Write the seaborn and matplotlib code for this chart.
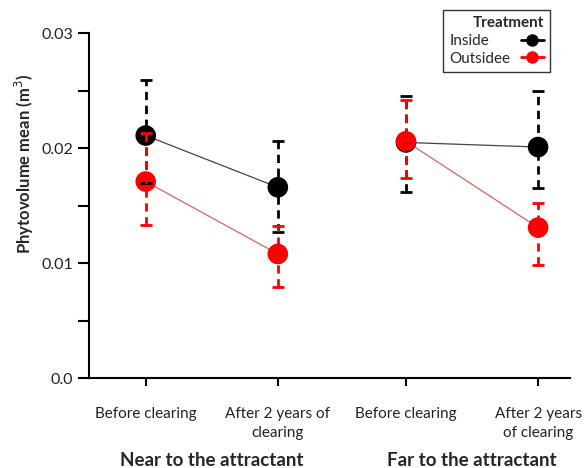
import matplotlib
matplotlib.use("Agg")
import matplotlib.pyplot as plt
import matplotlib.transforms as mtransforms
from matplotlib.lines import Line2D
import seaborn as sns
import pandas as pd
import numpy as np

# ---- data ----
conditions = ["Before clearing", "After 2 years of\nclearing", "Before clearing", "After 2 years\nof clearing"]
positions = [0, 1, 1.97, 2.97]
groups = ["Near to the attractant", "Far to the attractant"]
treatments = ["Inside", "Outsidee"]
inside_mean = [0.0211, 0.0166, 0.0205, 0.0201]
inside_lower = [0.0170, 0.0127, 0.0162, 0.0165]
inside_upper = [0.0259, 0.0206, 0.0245, 0.0250]
outside_mean = [0.0171, 0.0108, 0.0206, 0.0131]
outside_lower = [0.0133, 0.0079, 0.0174, 0.0098]
outside_upper = [0.0213, 0.0132, 0.0242, 0.0152]
ytick_values = [0.0, 0.01, 0.02, 0.03]
ytick_labels = ["0.0", "0.01", "0.02", "0.03"]

sns.set_theme(style="ticks")
plt.rcParams["font.family"] = ["Lato", "DejaVu Sans"]

fig = plt.figure(figsize=(5.85, 4.68), dpi=100)
ax = fig.add_axes([0.152, 0.192, 0.822, 0.737])

colors = {"Inside": "black", "Outsidee": "red"}
line_colors = {"Inside": "#444444", "Outsidee": "#e06060"}
means = {"Inside": inside_mean, "Outsidee": outside_mean}
lowers = {"Inside": inside_lower, "Outsidee": outside_lower}
uppers = {"Inside": inside_upper, "Outsidee": outside_upper}

for t in treatments:
    df = pd.DataFrame({"x": positions, "y": means[t]})
    for g in range(2):
        sub = df.iloc[2 * g:2 * g + 2]
        sns.lineplot(data=sub, x="x", y="y", ax=ax, color=line_colors[t], linewidth=0.9,
                     zorder=2, legend=False)
    sns.scatterplot(data=df, x="x", y="y", ax=ax, color=colors[t], s=220,
                    edgecolor="none", zorder=3, legend=False)

for t in treatments:
    m = np.array(means[t]); lo = np.array(lowers[t]); up = np.array(uppers[t])
    eb = ax.errorbar(positions, m, yerr=[m - lo, up - m], fmt="none", ecolor=colors[t],
                     elinewidth=2.0, capsize=4, capthick=2.0, zorder=4)
    for lc in eb[2]:
        lc.set_linestyle((0, (3, 2)))

ax.set_ylim(0, 0.03)
ax.set_xlim(-0.43, 3.21)
ax.set_yticks(ytick_values)
ax.set_yticklabels(ytick_labels, fontsize=11.5, color="#222222")
ax.set_yticks([0.005, 0.015, 0.025], minor=True)
ax.tick_params(axis="y", which="both", length=8, width=1.5, direction="out", color="black")
ax.set_xticks(positions)
ax.set_xticklabels(conditions, fontsize=11, color="#222222", linespacing=1.4)
ax.tick_params(axis="x", length=6, width=1.5, pad=15, color="black")
ax.set_xlabel("")
ax.set_ylabel("Phytovolume mean (m$^3$)", fontsize=12, fontweight="bold")
ax.yaxis.set_label_coords(-0.11, 0.62)
for s in ["top", "right"]:
    ax.spines[s].set_visible(False)
for s in ["left", "bottom"]:
    ax.spines[s].set_linewidth(1.5)
    ax.spines[s].set_color("black")

trans = mtransforms.blended_transform_factory(ax.transData, fig.transFigure)
ax.text((positions[0] + positions[1]) / 2, 1 - 460 / 468, groups[0], transform=trans,
        ha="center", va="center", fontsize=13.5, fontweight="bold")
ax.text((positions[2] + positions[3]) / 2, 1 - 460 / 468, groups[1], transform=trans,
        ha="center", va="center", fontsize=13.5, fontweight="bold")

handles = [Line2D([], [], color=colors[t], marker="o", markersize=8, linewidth=2) for t in treatments]
leg = fig.legend(handles, treatments, title="Treatment", loc="upper right",
                 bbox_to_anchor=(550 / 585, 1 - 10 / 468), borderaxespad=0,
                 markerfirst=False, fontsize=11,
                 title_fontproperties={"weight": "bold", "size": 11}, frameon=True,
                 fancybox=False, handlelength=1.5, borderpad=0.4, labelspacing=0.25,
                 handletextpad=0.7)
leg.get_frame().set_edgecolor("black")
leg.get_frame().set_linewidth(1.0)
leg._legend_box.align = "right"

# left-align legend labels while keeping handles aligned at the right
fig.canvas.draw()
renderer = fig.canvas.get_renderer()
widths = [t.get_window_extent(renderer).width for t in leg.get_texts()]
maxw = max(widths)
for col in leg._legend_handle_box.get_children():
    for item, w in zip(col.get_children(), widths):
        item.sep = item.sep + (maxw - w) * 72.0 / fig.dpi

fig.savefig("out.png", dpi=100)
